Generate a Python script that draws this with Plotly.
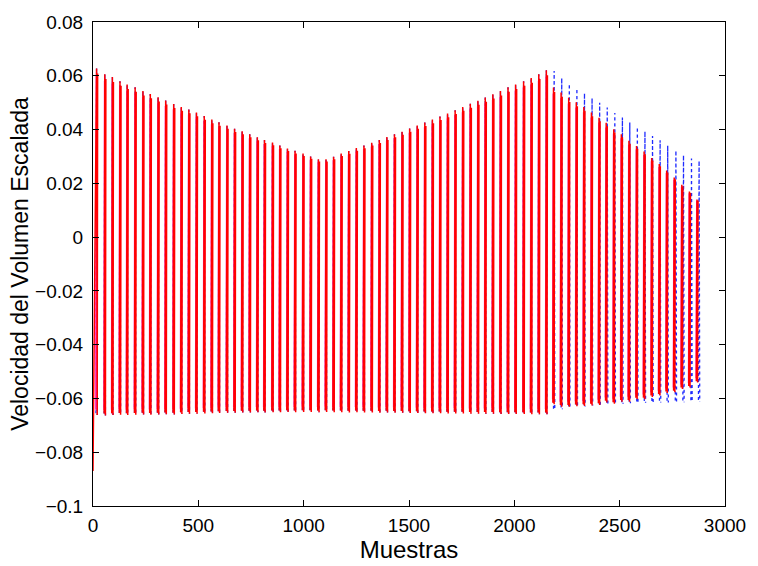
import plotly.graph_objects as go

# Sample index of each glottal pulse peak (80 pulses)
peak_samples = [17, 56, 92, 128, 162, 200, 237, 272, 309, 345, 383, 419, 455, 491, 528, 564,
                598, 636, 672, 708, 744, 780, 814, 852, 887, 923, 959, 997, 1033, 1070, 1106,
                1142, 1178, 1214, 1250, 1286, 1323, 1359, 1395, 1431, 1467, 1503, 1539, 1575,
                1611, 1647, 1683, 1719, 1755, 1791, 1827, 1862, 1898,
                1934, 1970, 2006, 2044, 2080, 2116, 2152,
                2186, 2222, 2258, 2294, 2330, 2366, 2402, 2436, 2472, 2508, 2544, 2580, 2616,
                2652, 2688, 2723, 2759, 2795, 2831, 2867]

# Positive peak of each pulse (red, solid)
red_peaks = [0.0627, 0.0606, 0.0595, 0.0580, 0.0568, 0.0557, 0.0543, 0.0532, 0.0520, 0.0508,
             0.0495, 0.0484, 0.0475, 0.0463, 0.0450, 0.0437, 0.0427, 0.0415, 0.0403, 0.0394,
             0.0383, 0.0371, 0.0361, 0.0352, 0.0341, 0.0330, 0.0321, 0.0311, 0.0300, 0.0290,
             0.0290, 0.0299, 0.0311, 0.0320, 0.0331, 0.0341, 0.0351, 0.0361, 0.0372, 0.0383,
             0.0392, 0.0404, 0.0415, 0.0426, 0.0437, 0.0449, 0.0460, 0.0472, 0.0484, 0.0496,
             0.0507, 0.0519, 0.0531, 0.0543, 0.0557, 0.0568, 0.0580, 0.0592, 0.0606, 0.0621,
             0.0556, 0.0538, 0.0518, 0.0502, 0.0484, 0.0463, 0.0444, 0.0425, 0.0401, 0.0383,
             0.0358, 0.0339, 0.0318, 0.0294, 0.0272, 0.0248, 0.0222, 0.0195, 0.0170, 0.0140]

# Negative peak of each pulse (red, solid)
red_troughs = [-0.0662, -0.0663, -0.0662, -0.0661, -0.0662, -0.0661, -0.0660, -0.0661,
               -0.0660, -0.0659, -0.0660, -0.0658, -0.0657, -0.0657, -0.0656, -0.0655,
               -0.0654, -0.0653, -0.0653, -0.0652, -0.0652, -0.0651, -0.0652, -0.0651,
               -0.0651, -0.0650, -0.0651, -0.0650, -0.0650, -0.0651, -0.0650, -0.0651,
               -0.0651, -0.0652, -0.0651, -0.0652, -0.0652, -0.0653, -0.0652, -0.0653,
               -0.0653, -0.0654, -0.0654, -0.0655, -0.0655, -0.0655, -0.0656, -0.0656,
               -0.0656, -0.0657, -0.0657, -0.0657, -0.0657, -0.0658, -0.0658, -0.0658,
               -0.0658, -0.0659, -0.0659, -0.0659,
               -0.0622, -0.0631, -0.0631, -0.0629, -0.0628, -0.0626, -0.0624, -0.0615,
               -0.0620, -0.0612, -0.0612, -0.0603, -0.0603, -0.0595, -0.0589, -0.0580,
               -0.0577, -0.0565, -0.0559, -0.0541]

red_start_value = -0.087  # onset transient at sample 0

# Dotted (blue) signal diverges after the 60th pulse
blue_tail_samples = [2189, 2225, 2261, 2297, 2333, 2369, 2405, 2441, 2477, 2513, 2548, 2584,
                     2620, 2656, 2692, 2728, 2767, 2803, 2841, 2877]
blue_tail_peaks = [0.0618, 0.0592, 0.0570, 0.0552, 0.0535, 0.0517, 0.0500, 0.0482, 0.0462,
                   0.0445, 0.0426, 0.0409, 0.0393, 0.0376, 0.0360, 0.0340, 0.0322, 0.0305,
                   0.0292, 0.0284]
blue_tail_troughs = [-0.0645, -0.0640, -0.0635, -0.0631, -0.0630, -0.0626, -0.0625, -0.0621,
                     -0.0620, -0.0620, -0.0618, -0.0618, -0.0616, -0.0616, -0.0615, -0.0615,
                     -0.0614, -0.0614, -0.0613, -0.0612]

x_ticks = [0, 500, 1000, 1500, 2000, 2500, 3000]
y_ticks = [-0.1, -0.08, -0.06, -0.04, -0.02, 0, 0.02, 0.04, 0.06, 0.08]
y_tick_text = ["\u22120.1", "\u22120.08", "\u22120.06", "\u22120.04", "\u22120.02",
               "0", "0.02", "0.04", "0.06", "0.08"]

# Pulse outline: (sample offset from peak, weight on peak, weight on trough)
RED_SHAPE = [(-3, 0.0, 0.99), (0, 1.0, 0.0), (3, 0.0, 1.0), (5, 0.97, 0.0)]
MAG_SHAPE = [(-5, 0.0, 0.97), (-2, 0.96, 0.0), (1, 0.0, 0.97), (3, 0.93, 0.0)]
BLUE_SHAPE = [(-3, 0.0, 0.99), (0, 1.0, 0.0), (3, 0.0, 1.0)]


def pulses(times, peaks, troughs, shape, start=None):
    xs, ys = [], []
    for i, (t, p, q) in enumerate(zip(times, peaks, troughs)):
        for j, (dt, wp, wq) in enumerate(shape):
            if i == 0 and j == 0 and start is not None:
                xs.append(0)
                ys.append(start)
            else:
                xs.append(t + dt)
                ys.append(wp * p + wq * q)
        xs.append(None)
        ys.append(None)
    return xs, ys


blue_times = peak_samples[:60] + blue_tail_samples
blue_peaks = red_peaks[:60] + blue_tail_peaks
blue_troughs = red_troughs[:60] + blue_tail_troughs

bx, by = pulses(blue_times, blue_peaks, blue_troughs, BLUE_SHAPE)
mx, my = pulses(peak_samples, red_peaks, red_troughs, MAG_SHAPE)
rx, ry = pulses(peak_samples, red_peaks, red_troughs, RED_SHAPE, start=red_start_value)

fig = go.Figure()
fig.add_trace(go.Scatter(x=bx, y=by, mode="lines",
                         line=dict(color="#1f2bff", width=1.3, dash="dot"),
                         connectgaps=False, showlegend=False))
fig.add_trace(go.Scatter(x=mx, y=my, mode="lines",
                         line=dict(color="#ff33cc", width=1.1),
                         connectgaps=False, showlegend=False))
fig.add_trace(go.Scatter(x=rx, y=ry, mode="lines",
                         line=dict(color="#ff0000", width=1.5),
                         connectgaps=False, showlegend=False))

font_family = "Liberation Sans, Arial, Helvetica, sans-serif"
axis_common = dict(showgrid=False, zeroline=False, showline=True, linecolor="black",
                   linewidth=1, mirror="allticks", ticks="inside", ticklen=6,
                   tickcolor="black", tickwidth=1,
                   tickfont=dict(family=font_family, size=19, color="black"))

fig.update_layout(
    width=758, height=566,
    margin=dict(l=93, r=25, t=16, b=49),
    paper_bgcolor="white", plot_bgcolor="white",
    xaxis=dict(range=[0, 3000], tickvals=x_ticks, ticklabelstandoff=2,
               title=dict(text="Muestras", font=dict(family=font_family, size=24, color="black"),
                          standoff=1),
               **axis_common),
    yaxis=dict(range=[-0.1, 0.08], tickvals=y_ticks, ticktext=y_tick_text,
               ticklabelstandoff=5,
               title=dict(text="Velocidad del Volumen Escalada",
                          font=dict(family=font_family, size=23, color="black"),
                          standoff=0),
               **axis_common),
)

fig.write_html("out.html")
